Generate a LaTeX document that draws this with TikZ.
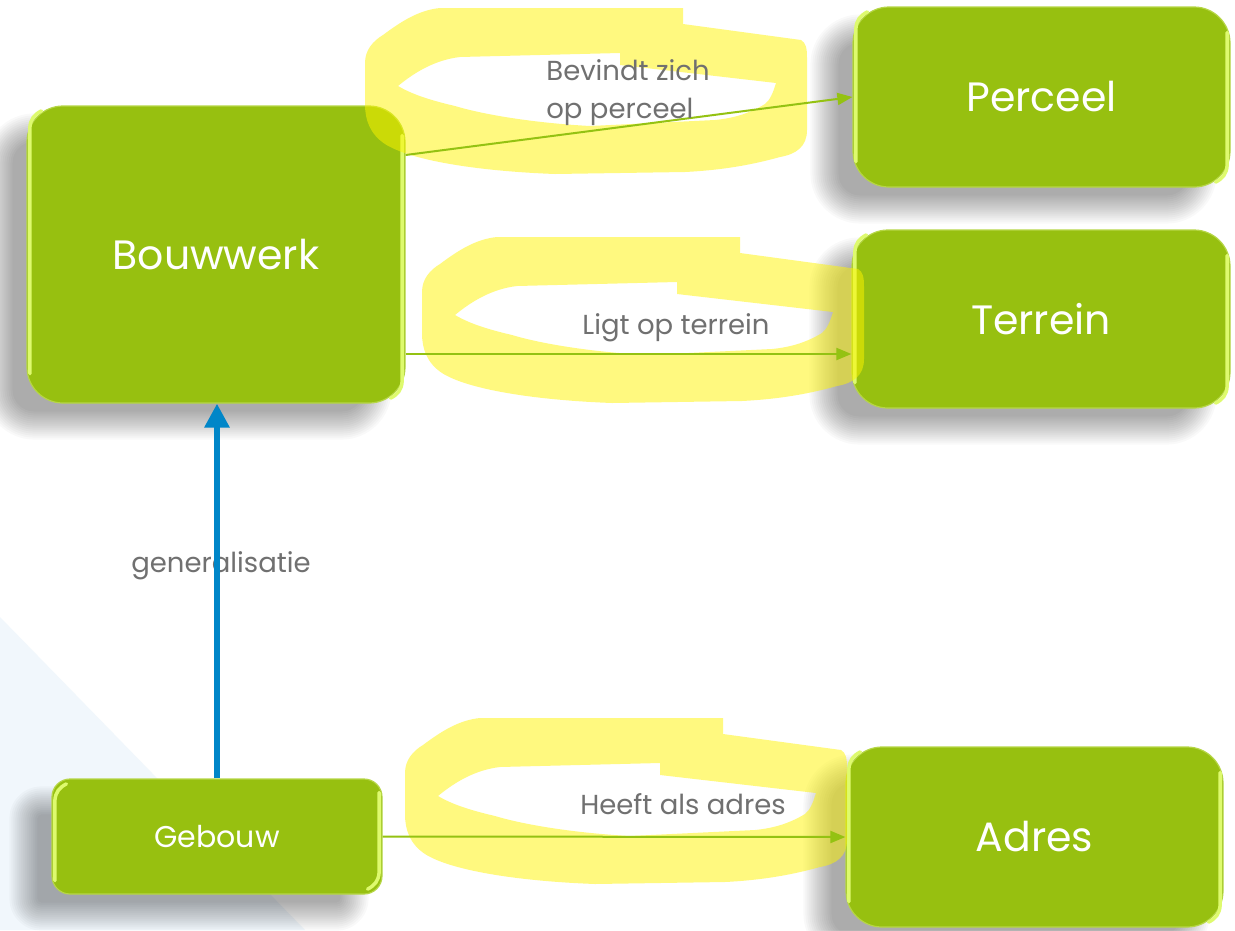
\documentclass[tikz,border=0pt]{standalone}
\usepackage{fontspec}
\setmainfont{Poppins}
\usetikzlibrary{arrows.meta,calc}

\definecolor{boxgreen}{RGB}{151,192,16}
\definecolor{boxedge}{RGB}{182,214,70}
\definecolor{glint}{RGB}{222,250,110}
\definecolor{linkgreen}{RGB}{148,194,18}
\definecolor{genblue}{RGB}{0,134,200}
\definecolor{labelgray}{RGB}{112,112,112}
\definecolor{marker}{RGB}{255,245,0}
\definecolor{paleblue}{RGB}{241,247,252}

\pgfdeclarelayer{bg}
\pgfdeclarelayer{shade}
\pgfsetlayers{bg,shade,main}

\tikzset{
  entity/.style={draw=boxedge, line width=1.2pt, fill=boxgreen, text=white,
    inner sep=0pt, rectangle},
  bigbox/.style={entity, rounded corners=36pt, font=\fontsize{41}{48}\selectfont},
  smallbox/.style={entity, rounded corners=18pt, font=\fontsize{30}{36}\selectfont},
  lbl/.style={text=labelgray, font=\fontsize{27.5}{38}\selectfont, inner sep=0pt},
  link/.style={draw=linkgreen, line width=2pt, -{Triangle[length=15pt,width=12pt]}},
  genarrow/.style={draw=genblue, line width=6pt, -{Triangle[length=24pt,width=24pt]}},
  glossline/.style={draw=glint, line width=3.5pt, line cap=round},
  highlight/.style={fill=marker, opacity=.5, even odd rule},
}

% soft drop shadow behind a node: name, corner radius
\newcommand\dropshade[2]{%
  \begin{pgfonlayer}{shade}
    \foreach \e in {-14,-12,...,14}{
      \pgfmathsetmacro\rr{max(#2+\e,2)}
      \pgfmathsetmacro\lo{-28-\e}
      \pgfmathsetmacro\hi{-28+\e}
      \pgfmathsetmacro\tp{22-\e}
      \pgfmathsetmacro\bt{22+\e}
      \fill[black, opacity=0.024, rounded corners=\rr pt]
        ($(#1.north west)+(\lo,\tp)$) rectangle ($(#1.south east)+(\hi,\bt)$);
    }
  \end{pgfonlayer}}

% glossy edge highlights of a node: name, straight-part inset
\newcommand\glossify[2]{%
  \draw[glossline] ($(#1.north west)+(15,5.5)$) .. controls ($(#1.north west)+(8,9)$)
    and ($(#1.north west)+(4,14)$) .. ($(#1.north west)+(3.5,22)$)
    -- ($(#1.south west)+(3.5,-#2)$);
  \draw[glossline] ($(#1.north east)+(-3.5,#2)$) -- ($(#1.south east)+(-3.5,-22)$)
    .. controls ($(#1.south east)+(-4,-14)$) and ($(#1.south east)+(-8,-9)$)
    .. ($(#1.south east)+(-15,-5.5)$);
}

% hand-drawn marker loop, placed by its top-left corner
\newcommand\markloop[2]{%
  \begin{scope}[shift={(#1,#2)}]
    \fill[highlight]
      % outer rim of the stroke
      (75,0) -- (318,0) -- (318,16) -- (436,32)
        .. controls (441,35) and (442,40) .. (442,50) -- (442,122)
        .. controls (442,138) and (432,146) .. (415,149)
        .. controls (390,156) and (360,162) .. (320,164) -- (190,166)
        .. controls (110,163) and (45,152) .. (20,136)
        .. controls (5,126) and (0,112) .. (0,96) -- (0,55)
        .. controls (0,42) and (8,33) .. (18,27)
        .. controls (38,12) and (55,2) .. (75,0) -- cycle
      % inner gap of the loop
      (33,78) .. controls (50,64) and (70,52) .. (95,49) -- (255,45) -- (255,57)
        -- (411,75) .. controls (408,85) and (405,92) .. (400,96)
        .. controls (385,105) and (370,110) .. (350,112) -- (225,118)
        .. controls (170,115) and (120,107) .. (90,98)
        .. controls (60,91) and (45,85) .. (33,78) -- cycle;
  \end{scope}}

\begin{document}
\begin{tikzpicture}[x=1pt, y=-1pt]
  \useasboundingbox (0,0) rectangle (1235,930);
  \begin{pgfonlayer}{bg}
    \fill[white] (0,0) rectangle (1235,930);
    \fill[paleblue] (0,617) -- (305,930) -- (0,930) -- cycle;
  \end{pgfonlayer}

  % entities
  \node[bigbox, minimum width=378pt, minimum height=297pt] (bw) at (216,254.5) {Bouwwerk};
  \node[bigbox, minimum width=377pt, minimum height=180pt] (pc) at (1041.5,97) {Perceel};
  \node[bigbox, minimum width=378pt, minimum height=178pt] (tr) at (1041,319) {Terrein};
  \node[bigbox, minimum width=377pt, minimum height=180pt] (ad) at (1034.5,837) {Adres};
  \node[smallbox, minimum width=330pt, minimum height=115pt] (gb) at (217,836.5) {Gebouw};

  \dropshade{bw}{36}
  \dropshade{pc}{36}
  \dropshade{tr}{36}
  \dropshade{ad}{36}
  \dropshade{gb}{18}

  \glossify{bw}{30}
  \glossify{pc}{26}
  \glossify{tr}{26}
  \glossify{ad}{26}
  \glossify{gb}{14}

  % marker loops around the relation names
  \markloop{365}{8}
  \markloop{422}{237}
  \markloop{405}{718}

  % relations
  \draw[link] ([yshift=99.5pt]bw.east) -- (pc.west);
  \draw[link] ([yshift=-99.5pt]bw.east) -- ([yshift=-35pt]tr.west);
  \draw[link] (gb.east) -- (ad.west);

  \node[lbl, align=left] (l1) at (628,93) {Bevindt zich\\op perceel};
  \node[lbl] (l2) at (676,328) {Ligt op terrein};
  \node[lbl] (l3) at (683,804) {Heeft als adres};
  \node[lbl] (l4) at (221,566) {generalisatie};

  % generalisation
  \draw[genarrow] (gb.north) -- (gb.north |- bw.south);
\end{tikzpicture}
\end{document}
